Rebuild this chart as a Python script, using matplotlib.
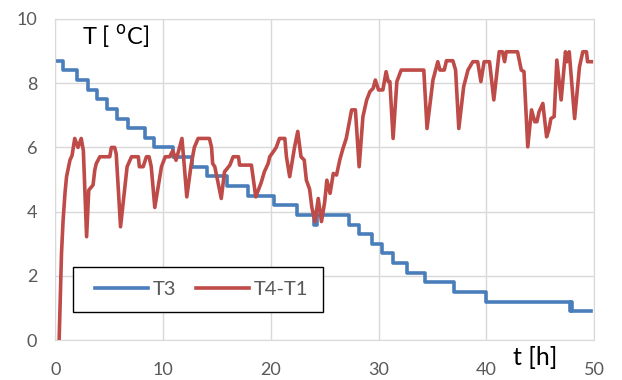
import numpy as np
import matplotlib.pyplot as plt
from matplotlib.patches import Rectangle

plt.rcParams['font.family'] = ['Lato', 'DejaVu Sans']

# T3: step levels and times where each level starts
t3_time = [0.0, 0.7, 2.0, 3.0, 3.85, 4.8, 5.7, 6.7, 8.3, 9.2, 10.9, 12.7, 14.05,
           15.9, 17.9, 20.3, 22.4, 24.0, 24.3, 27.3, 28.2, 29.4, 30.35, 31.3,
           32.6, 34.3, 37.0, 40.0, 47.8, 47.9, 48.0, 49.7]
t3_val = [8.7, 8.4, 8.1, 7.8, 7.5, 7.2, 6.9, 6.6, 6.3, 6.0, 5.7, 5.4, 5.1,
          4.8, 4.5, 4.2, 3.9, 3.6, 3.9, 3.6, 3.3, 3.0, 2.7, 2.4,
          2.1, 1.8, 1.5, 1.2, 0.9, 1.2, 0.9, 0.9]

# T4-T1
dt_time = [0.35, 0.57, 0.72, 0.9, 1.04, 1.35, 1.55, 1.8, 2.1, 2.4, 2.6, 2.9, 3.1,
           3.5, 3.66, 3.8, 4.13, 5.05, 5.2, 5.5, 5.65, 6.05, 6.66, 7.07, 7.7,
           7.8, 8.15, 8.45, 8.7, 8.9, 9.23, 9.85, 10.2, 10.6, 10.9, 11.2, 11.45,
           11.75, 11.95, 12.2, 12.6, 12.9, 13.25, 14.3, 14.5, 14.6, 14.8, 15.4,
           15.7, 16.2, 16.5, 17.0, 17.1, 18.2, 18.6, 19.1, 19.4, 19.75, 19.9,
           20.2, 20.5, 20.8, 21.3, 21.45, 21.75, 22.2, 22.5, 22.8, 23.1, 23.3,
           23.6, 23.8, 24.1,
           24.4, 24.7, 25.0, 25.2, 25.5, 25.8, 26.1, 26.4, 26.7, 27.0, 27.5,
           27.85, 28.2, 28.55, 28.9, 29.2, 29.5, 29.7, 30.0, 30.4, 30.7, 30.9,
           31.05, 31.35, 31.7, 32.1, 34.2, 34.5, 35.05, 35.3, 35.5, 35.7, 36.1,
           36.3, 36.9, 37.15, 37.45, 37.9, 38.3, 38.75, 39.2, 39.5, 39.8, 40.3,
           40.7, 41.2, 41.5, 41.7, 41.85, 42.9, 43.25, 43.5, 43.85, 44.2, 44.5,
           44.7, 44.9, 45.25, 45.6, 45.8, 46.0, 46.3, 46.55, 46.95, 47.35, 47.5,
           47.7, 48.2, 48.65, 48.96, 49.3, 49.4, 49.75]
dt_val = [0.0, 2.7, 3.74, 4.6, 5.09, 5.6, 5.75, 6.28, 6.0, 6.28, 5.9, 3.22, 4.67,
          4.83, 5.3, 5.5, 5.71, 5.71, 6.0, 6.0, 5.8, 3.53, 5.4, 5.71, 5.71,
          5.4, 5.4, 5.71, 5.71, 5.4, 4.13, 5.4, 5.71, 5.71, 5.9, 5.6, 5.9,
          6.28, 5.5, 4.46, 5.45, 6.0, 6.28, 6.28, 6.0, 5.5, 5.4, 4.41,
          5.24, 5.45, 5.71, 5.71, 5.45, 5.45, 4.46, 4.9, 5.24, 5.5, 5.71,
          5.85, 6.0, 6.28, 6.28, 5.71, 5.09, 6.0, 6.5, 5.71, 5.61, 4.98,
          4.7, 4.15, 3.69,
          4.41, 3.69, 4.3, 4.98, 4.57, 5.19, 5.14, 5.61, 5.97, 6.28, 7.17,
          7.17, 5.4, 6.96, 7.48, 7.74, 7.84, 8.1, 7.79, 7.79, 8.36, 8.05,
          8.05, 6.28, 8.05, 8.41, 8.41, 6.59, 8.1, 8.41, 8.67, 8.41, 8.41,
          8.7, 8.7, 8.41, 6.59, 7.89, 8.41, 8.67, 8.67, 8.05, 8.67, 8.67,
          7.48, 8.98, 8.98, 8.67, 8.98, 8.98, 8.41, 8.36, 6.02, 7.17, 6.8,
          6.8, 7.11, 7.37, 6.33, 6.54, 6.9, 6.96, 8.72, 7.48, 8.98, 8.67,
          8.98, 6.9, 8.51, 8.98, 8.98, 8.67, 8.67]

fig = plt.figure(figsize=(6.22, 3.8), dpi=100)
ax = fig.add_axes([0.089, 0.105, 0.866, 0.845])

ax.plot(t3_time, t3_val, color='#4A7EBB', lw=2.6, drawstyle='steps-post',
        label='T3', solid_joinstyle='round')
ax.plot(dt_time, dt_val, color='#BE4B48', lw=2.6, label='T4-T1',
        solid_joinstyle='round')

ax.set_xlim(0, 50)
ax.set_ylim(0, 10)
ax.set_xticks(range(0, 51, 10))
ax.set_yticks(range(0, 11, 2))
ax.grid(True, color='#D9D9D9', lw=1)
ax.set_axisbelow(True)
for s in ax.spines.values():
    s.set_color('#D9D9D9')
ax.tick_params(length=0, labelsize=13, colors='#595959')
ax.tick_params(axis='x', pad=16)
ax.tick_params(axis='y', pad=13)

fig.text(0.132, 0.905, r'T [ $^{\mathrm{o}}$C]', fontsize=17, va='center')
fig.text(0.825, 0.058, 't [h]', fontsize=18, va='center')

# legend box drawn separately, entries placed inside
fig.patches.append(Rectangle((73 / 622, 68.3 / 380), 249.7 / 622, 44.7 / 380,
                             transform=fig.transFigure, fill=True, facecolor='white',
                             edgecolor='black', lw=1, zorder=5))
leg = fig.legend(loc='center left', bbox_to_anchor=(95 / 622, 90.6 / 380),
                 ncol=2, fontsize=14.5, frameon=False,
                 handlelength=2.63, handletextpad=0.25, columnspacing=0.95,
                 borderaxespad=0, borderpad=0)
leg.set_zorder(6)
for txt in leg.get_texts():
    txt.set_color('#595959')

fig.savefig('out.png', dpi=100)
